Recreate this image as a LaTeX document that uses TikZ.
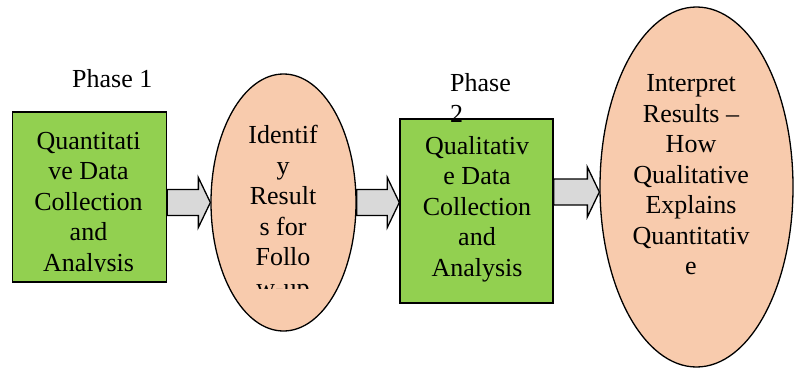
\documentclass[tikz,border=0pt]{standalone}
\usepackage{fontspec}
\setmainfont{Liberation Serif}
\usetikzlibrary{shapes.geometric}
\usetikzlibrary{calc}
\definecolor{phasegreen}{HTML}{92D050}
\definecolor{peach}{HTML}{F8CBAD}
\definecolor{arrowgray}{HTML}{D9D9D9}
\tikzset{
  flow_text/.style = {align=center, inner sep=0pt,
    font=\fontsize{26}{30.5}\selectfont},% texte des formes
  green_box/.style = {rectangle, draw=black, fill=phasegreen,
    line width=1.4pt, inner sep=0pt},% phase de collecte
  peach_node/.style = {ellipse, draw=black, fill=peach,
    line width=1.3pt, inner sep=0pt},% resultats
  block_arrow/.style = {draw=black, fill=arrowgray, line width=1.3pt},% fleche pleine
  phase_label/.style = {flow_text, align=left}% titre de phase
}
% fleche pleine horizontale : #1 = queue, #2 = pointe
\newcommand{\blockarrow}[2]{%
  \draw [block_arrow] ($(#1)+(0,-13)$) -- ($(#2)+(-12,-13)$) -- ($(#2)+(-12,-25)$)
    -- (#2) -- ($(#2)+(-12,25)$) -- ($(#2)+(-12,13)$) -- ($(#1)+(0,13)$) -- cycle;}

\begin{document}
\begin{tikzpicture}[x=1pt, y=-1pt]
  \useasboundingbox (0,0) rectangle (800,369);
  % formes
  \node [green_box, minimum width=154pt, minimum height=170pt] (quant) at (89.5,197) {};
  \node [peach_node, minimum width=145pt, minimum height=257pt] (idf) at (283.5,202.5) {};
  \node [green_box, minimum width=153pt, minimum height=184pt] (qual) at (476.5,211) {};
  \node [peach_node, minimum width=193pt, minimum height=360pt] (interp) at (696.5,187) {};
  % textes
  \begin{scope}
    \clip (quant.north west) rectangle ($(quant.south east)+(0,-11)$);
    \node [flow_text] (quant_txt) at (88.5,204.5) {Quantitati\\ve Data\\Collection\\and\\Analysis};
  \end{scope}
  \begin{scope}
    \clip (idf.west |- idf.north) rectangle ($(idf.east |- idf.south)+(0,-43)$);
    \node [flow_text] (idf_txt) at (283,213.5) {Identif\\y\\Result\\s for\\Follo\\w-up};
  \end{scope}
  \node [flow_text] (qual_txt) at (477,209) {Qualitativ\\e Data\\Collection\\and\\Analysis};
  \node [flow_text] (interp_txt) at (691,175) {Interpret\\Results --\\How\\Qualitative\\Explains\\Quantitativ\\e};
  % titres
  \node [phase_label, anchor=base west] (phase1) at (72,88) {Phase 1};
  \node [phase_label, anchor=west] (phase2) at (450,98) {Phase\\2};
  % fleches
  \coordinate (arr3) at ($(qual.east)+(0,-19)$);
  \blockarrow{quant.east |- idf.west}{idf.west}
  \blockarrow{idf.east}{qual.west |- idf.east}
  \blockarrow{arr3}{interp.west |- arr3}
\end{tikzpicture}
\end{document}
